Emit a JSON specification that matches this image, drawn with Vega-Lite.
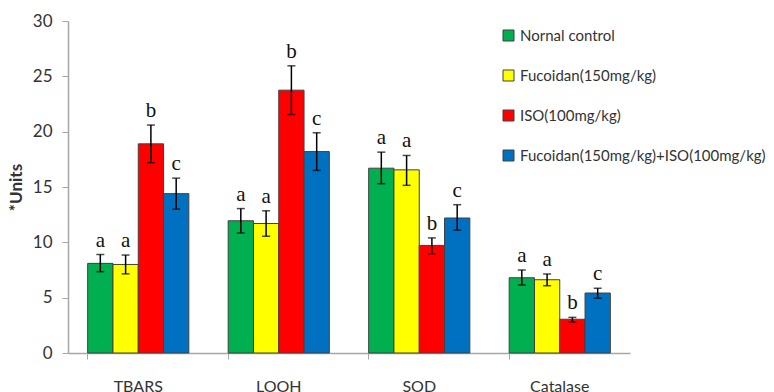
{
  "$schema": "https://vega.github.io/schema/vega-lite/v6.json",
  "width": 562,
  "height": 332,
  "autosize": "none",
  "padding": {"left": 68, "top": 21, "right": 144, "bottom": 39},
  "background": "white",
  "config": {
    "view": {"stroke": null},
    "font": "Lato",
    "axis": {"domainColor": "#a6a6a6", "tickColor": "#a6a6a6", "labelColor": "#333333", "labelFont": "Lato", "grid": false}
  },
  "data": {
    "values": [
      {"cat": "TBARS", "group": "Nornal control", "mean": 8.1, "lo": 7.35, "hi": 8.9, "letter": "a"},
      {"cat": "TBARS", "group": "Fucoidan(150mg/kg)", "mean": 8.0, "lo": 7.15, "hi": 8.85, "letter": "a"},
      {"cat": "TBARS", "group": "ISO(100mg/kg)", "mean": 18.9, "lo": 17.2, "hi": 20.6, "letter": "b"},
      {"cat": "TBARS", "group": "Fucoidan(150mg/kg)+ISO(100mg/kg)", "mean": 14.4, "lo": 13.0, "hi": 15.8, "letter": "c"},
      {"cat": "LOOH", "group": "Nornal control", "mean": 11.95, "lo": 10.85, "hi": 13.05, "letter": "a"},
      {"cat": "LOOH", "group": "Fucoidan(150mg/kg)", "mean": 11.7, "lo": 10.55, "hi": 12.85, "letter": "a"},
      {"cat": "LOOH", "group": "ISO(100mg/kg)", "mean": 23.75, "lo": 21.55, "hi": 25.95, "letter": "b"},
      {"cat": "LOOH", "group": "Fucoidan(150mg/kg)+ISO(100mg/kg)", "mean": 18.2, "lo": 16.5, "hi": 19.9, "letter": "c"},
      {"cat": "SOD", "group": "Nornal control", "mean": 16.7, "lo": 15.3, "hi": 18.15, "letter": "a"},
      {"cat": "SOD", "group": "Fucoidan(150mg/kg)", "mean": 16.55, "lo": 15.15, "hi": 17.85, "letter": "a"},
      {"cat": "SOD", "group": "ISO(100mg/kg)", "mean": 9.72, "lo": 8.97, "hi": 10.4, "letter": "b"},
      {"cat": "SOD", "group": "Fucoidan(150mg/kg)+ISO(100mg/kg)", "mean": 12.2, "lo": 11.1, "hi": 13.4, "letter": "c"},
      {"cat": "Catalase", "group": "Nornal control", "mean": 6.8, "lo": 6.15, "hi": 7.5, "letter": "a"},
      {"cat": "Catalase", "group": "Fucoidan(150mg/kg)", "mean": 6.62, "lo": 6.08, "hi": 7.14, "letter": "a"},
      {"cat": "Catalase", "group": "ISO(100mg/kg)", "mean": 3.05, "lo": 2.8, "hi": 3.22, "letter": "b"},
      {"cat": "Catalase", "group": "Fucoidan(150mg/kg)+ISO(100mg/kg)", "mean": 5.42, "lo": 4.95, "hi": 5.85, "letter": "c"}
    ]
  },
  "encoding": {
    "x": {
      "field": "cat", "type": "nominal", "sort": ["TBARS", "LOOH", "SOD", "Catalase"],
      "scale": {"paddingInner": 0.28, "paddingOuter": 0.14},
      "axis": {"title": null, "labelAngle": 0, "labelFontSize": 16, "labelPadding": 19, "labelBaseline": "top", "tickSize": 6, "bandPosition": 0, "domainWidth": 1.5}
    },
    "xOffset": {"field": "group", "type": "nominal", "sort": ["Nornal control", "Fucoidan(150mg/kg)", "ISO(100mg/kg)", "Fucoidan(150mg/kg)+ISO(100mg/kg)"], "scale": {"paddingInner": 0, "paddingOuter": 0}}
  },
  "layer": [
    {
      "mark": {"type": "bar", "stroke": "#404040", "strokeWidth": 1},
      "encoding": {
        "y": {
          "field": "mean", "type": "quantitative",
          "scale": {"domain": [0, 30], "nice": false},
          "axis": {"title": "*Units", "titleFontSize": 17, "titleFontWeight": "bold", "titleColor": "#333333", "titleFont": "Lato", "titlePadding": 7, "labelFontSize": 17, "labelPadding": 10, "tickSize": 6, "values": [0, 5, 10, 15, 20, 25, 30], "domainWidth": 1.5}
        },
        "color": {
          "field": "group", "type": "nominal",
          "sort": ["Nornal control", "Fucoidan(150mg/kg)", "ISO(100mg/kg)", "Fucoidan(150mg/kg)+ISO(100mg/kg)"],
          "scale": {"domain": ["Nornal control", "Fucoidan(150mg/kg)", "ISO(100mg/kg)", "Fucoidan(150mg/kg)+ISO(100mg/kg)"], "range": ["#00b050", "#ffff00", "#ff0000", "#0070c0"]},
          "legend": {
            "title": null, "orient": "none", "legendX": 433, "legendY": 7,
            "symbolType": "square", "symbolSize": 121, "symbolStrokeColor": "#404040", "symbolStrokeWidth": 1, "symbolOpacity": 1,
            "labelFontSize": 15, "labelFont": "Lato", "labelColor": "#333333", "labelOffset": 4, "rowPadding": 24, "labelLimit": 400
          }
        }
      }
    },
    {
      "mark": {"type": "rule", "color": "black", "strokeWidth": 1.5},
      "encoding": {"y": {"field": "lo", "type": "quantitative"}, "y2": {"field": "hi"}}
    },
    {
      "mark": {"type": "tick", "color": "black", "thickness": 1.5, "size": 8, "orient": "horizontal"},
      "encoding": {"y": {"field": "lo", "type": "quantitative"}}
    },
    {
      "mark": {"type": "tick", "color": "black", "thickness": 1.5, "size": 8, "orient": "horizontal"},
      "encoding": {"y": {"field": "hi", "type": "quantitative"}}
    },
    {
      "mark": {"type": "text", "font": "Liberation Serif", "fontSize": 21, "color": "#111111", "baseline": "alphabetic", "dy": -8},
      "encoding": {"y": {"field": "hi", "type": "quantitative"}, "text": {"field": "letter"}}
    }
  ]
}
